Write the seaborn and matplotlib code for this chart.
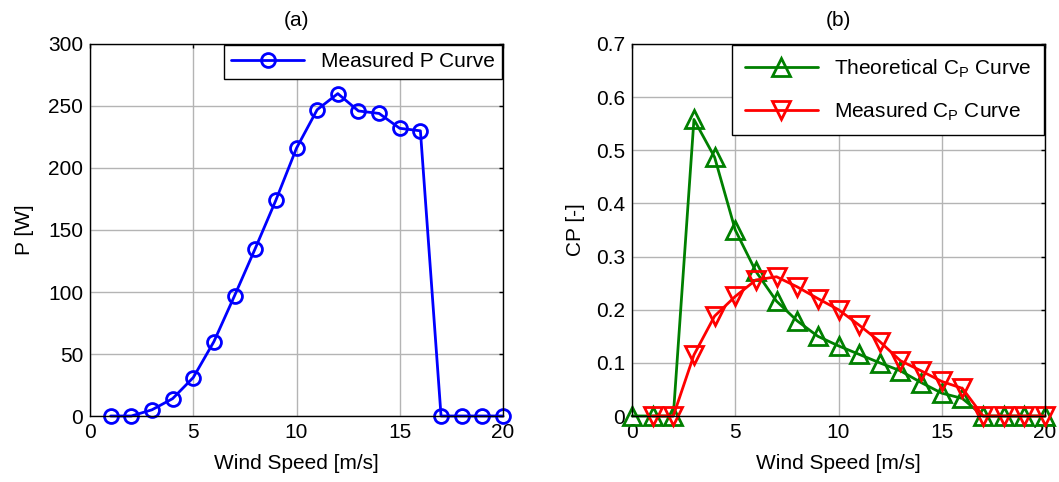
import matplotlib
matplotlib.use("Agg")
import matplotlib.pyplot as plt
import seaborn as sns
import pandas as pd

# Data
wind_p = list(range(1, 21))
power = [0, 0, 5, 14, 31, 60, 97, 135, 174, 216, 247, 260, 246, 244, 232, 230, 0, 0, 0, 0]

wind_cp_theo = list(range(0, 21))
cp_theo = [0, 0, 0, 0.558, 0.487, 0.350, 0.272, 0.216, 0.179, 0.150, 0.132, 0.116,
           0.100, 0.085, 0.063, 0.043, 0.033, 0, 0, 0, 0]

wind_cp_meas = list(range(1, 21))
cp_meas = [0, 0, 0.115, 0.188, 0.225, 0.256, 0.262, 0.243, 0.221, 0.200, 0.171,
           0.140, 0.104, 0.085, 0.065, 0.052, 0, 0, 0, 0]

sns.set_theme(style="white")
plt.rcParams['font.family'] = ['Liberation Sans', 'DejaVu Sans']
plt.rcParams['mathtext.fontset'] = 'custom'
plt.rcParams['mathtext.rm'] = 'Liberation Sans'
plt.rcParams['mathtext.it'] = 'Liberation Sans'
for k in ['text.color', 'axes.labelcolor', 'xtick.color', 'ytick.color']:
    plt.rcParams[k] = 'black'

FS = 15
fig = plt.figure(figsize=(10.59, 4.82), dpi=100)
ax1 = fig.add_axes([90/1059, 66/482, 413/1059, 372/482])
ax2 = fig.add_axes([632/1059, 66/482, 413/1059, 372/482])

df_p = pd.DataFrame({"Wind Speed": wind_p, "P": power})
sns.lineplot(data=df_p, x="Wind Speed", y="P", ax=ax1, color="#0000ff", lw=2,
             marker="o", markersize=10, markerfacecolor="none", markeredgecolor="#0000ff",
             markeredgewidth=2, label="Measured P Curve")

df_t = pd.DataFrame({"Wind Speed": wind_cp_theo, "CP": cp_theo})
df_m = pd.DataFrame({"Wind Speed": wind_cp_meas, "CP": cp_meas})
sns.lineplot(data=df_t, x="Wind Speed", y="CP", ax=ax2, color="#008000", lw=2,
             marker="^", markersize=13, markerfacecolor="none", markeredgecolor="#008000",
             markeredgewidth=2, label=r"Theoretical C$_\mathrm{P}$ Curve")
sns.lineplot(data=df_m, x="Wind Speed", y="CP", ax=ax2, color="#ff0000", lw=2,
             marker="v", markersize=13, markerfacecolor="none", markeredgecolor="#ff0000",
             markeredgewidth=2, label=r"Measured C$_\mathrm{P}$ Curve")

for ax in (ax1, ax2):
    ax.set_xlim(0, 20)
    ax.set_xticks([0, 5, 10, 15, 20])
    ax.grid(True, color="#b4b4b4", lw=1)
    ax.tick_params(direction="in", top=True, right=True, labelsize=FS, length=3,
                   color="black", labelcolor="black", width=1, pad=5)
    for s in ax.spines.values():
        s.set_color("black")
        s.set_linewidth(1)
    ax.set_xlabel("Wind Speed [m/s]", fontsize=FS, labelpad=9, color="black")
    for m in ax.lines:
        m.set_clip_on(False)

ax1.set_ylim(0, 300)
ax1.set_yticks(range(0, 301, 50))
ax1.set_ylabel("P [W]", fontsize=FS, labelpad=10, color="black")
ax1.set_title("(a)", fontsize=FS, pad=13, color="black")
leg1 = ax1.legend(loc="upper right", fontsize=FS, fancybox=False, edgecolor="black",
                  framealpha=1, borderaxespad=0.05, handlelength=3.5, borderpad=0.35)
leg1.get_frame().set_linewidth(1)

ax2.set_ylim(0, 0.7)
ax2.set_yticks([0, 0.1, 0.2, 0.3, 0.4, 0.5, 0.6, 0.7])
ax2.set_yticklabels(["0", "0.1", "0.2", "0.3", "0.4", "0.5", "0.6", "0.7"])
ax2.set_ylabel("CP [-]", fontsize=FS, labelpad=8, color="black")
ax2.set_title("(b)", fontsize=FS, pad=13, color="black")
leg2 = ax2.legend(loc="upper right", fontsize=FS, fancybox=False, edgecolor="black",
                  framealpha=1, borderaxespad=0.05, handlelength=3.5, labelspacing=1.0,
                  borderpad=0.6)
leg2.get_frame().set_linewidth(1)

fig.savefig("out.png", dpi=100)
